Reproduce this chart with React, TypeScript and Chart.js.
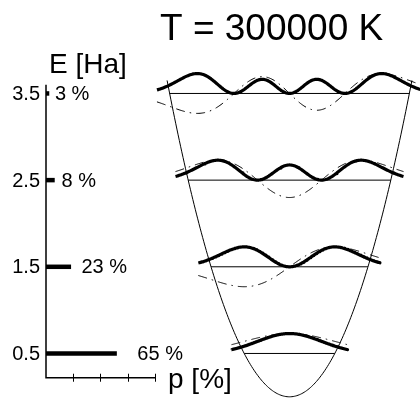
import React, { useEffect, useRef } from "react";
import { Chart, registerables } from "chart.js";

Chart.register(...registerables);

// ---- data ----
const levelEnergies = [0.5, 1.5, 2.5, 3.5]; // E [Ha]
const levelProbabilities = [65, 23, 8, 3]; // p [%]
const energyTickLabels = ["0.5", "1.5", "2.5", "3.5"];
const probabilityTicks = [25, 50, 75, 100];
const titleText = "T = 300000 K";
const energyAxisTitle = "E [Ha]";
const probabilityAxisTitle = "p [%]";

const FONT = '"Liberation Sans", Arial, Helvetica, sans-serif';
const WAVE_AMPLITUDE = 0.23; // Ha, plotted height of normalised psi and |psi|^2
const WAVE_OVERHANG = 0.28; // extent beyond classical turning points
const POTENTIAL_TOP = 3.65;

function hermite(n: number, x: number): number {
  if (n === 0) return 1;
  let h0 = 1;
  let h1 = 2 * x;
  for (let k = 1; k < n; k++) {
    const h2 = 2 * x * h1 - 2 * k * h0;
    h0 = h1;
    h1 = h2;
  }
  return h1;
}
const psi = (n: number, x: number) => hermite(n, x) * Math.exp(-(x * x) / 2);

function buildDatasets() {
  const ds: any[] = [];
  const base = { pointRadius: 0, borderColor: "#000", tension: 0, fill: false, xAxisID: "x", yAxisID: "y" };
  // potential V = x^2/2
  const xPot = Math.sqrt(2 * POTENTIAL_TOP);
  const pot: { x: number; y: number }[] = [];
  for (let i = 0; i <= 200; i++) {
    const x = -xPot + (2 * xPot * i) / 200;
    pot.push({ x, y: (x * x) / 2 });
  }
  ds.push({ ...base, data: pot, borderWidth: 1 });

  levelEnergies.forEach((E, n) => {
    const tp = Math.sqrt(2 * E);
    ds.push({ ...base, data: [{ x: -tp, y: E }, { x: tp, y: E }], borderWidth: 1 });
    const xr = tp + WAVE_OVERHANG;
    let maxAbs = 0;
    for (let i = 0; i <= 2000; i++) {
      const x = -xr + (2 * xr * i) / 2000;
      maxAbs = Math.max(maxAbs, Math.abs(psi(n, x)));
    }
    const dens: { x: number; y: number }[] = [];
    const wave: { x: number; y: number }[] = [];
    for (let i = 0; i <= 240; i++) {
      const x = -xr + (2 * xr * i) / 240;
      const v = psi(n, x) / maxAbs;
      wave.push({ x, y: E + WAVE_AMPLITUDE * v });
      dens.push({ x, y: E + WAVE_AMPLITUDE * v * v });
    }
    ds.push({ ...base, data: wave, borderWidth: 1, borderDash: [9, 5, 1.5, 5] });
    ds.push({ ...base, data: dens, borderWidth: 3.2, borderJoinStyle: "round" });
  });

  levelEnergies.forEach((E, n) => {
    ds.push({
      ...base,
      xAxisID: "xp",
      data: [{ x: 0, y: E }, { x: levelProbabilities[n], y: E }],
      borderWidth: 4.5,
      borderCapStyle: "butt",
    });
  });
  return ds;
}

const overlayPlugin = {
  id: "overlay",
  afterDatasetsDraw(chart: any) {
    const ctx = chart.ctx as CanvasRenderingContext2D;
    const xp = chart.scales.xp;
    const y = chart.scales.y;
    const x0 = xp.getPixelForValue(0);
    const x100 = xp.getPixelForValue(100);
    const yTop = y.getPixelForValue(3.6);
    const yBot = y.getPixelForValue(0.22);
    ctx.save();
    ctx.strokeStyle = "#000";
    ctx.lineWidth = 1.5;
    ctx.beginPath();
    ctx.moveTo(x0, yTop);
    ctx.lineTo(x0, yBot);
    ctx.lineTo(x100, yBot);
    ctx.stroke();
    ctx.lineWidth = 1;
    ctx.beginPath();
    probabilityTicks.forEach((t) => {
      const px = Math.round(xp.getPixelForValue(t)) + 0.5;
      ctx.moveTo(px, yBot - 4);
      ctx.lineTo(px, yBot + 4);
    });
    ctx.stroke();

    ctx.fillStyle = "#000";
    ctx.font = `20px ${FONT}`;
    ctx.textBaseline = "middle";
    levelEnergies.forEach((E, i) => {
      const py = y.getPixelForValue(E) + 1;
      ctx.textAlign = "right";
      ctx.fillText(energyTickLabels[i], x0 - 6, py);
      ctx.textAlign = "left";
      const p = levelProbabilities[i];
      ctx.fillText(`${p} %`, xp.getPixelForValue(p * 1.22 + 4.5), py);
    });

    ctx.textBaseline = "alphabetic";
    ctx.font = `28px ${FONT}`;
    ctx.textAlign = "center";
    ctx.fillText(energyAxisTitle, 88, 73);
    ctx.textAlign = "left";
    ctx.fillText(probabilityAxisTitle, 168, 388);
    ctx.font = `37px ${FONT}`;
    ctx.fillText(titleText, 160, 40);
    ctx.restore();
  },
};

export default function App() {
  const ref = useRef<HTMLCanvasElement | null>(null);
  useEffect(() => {
    if (!ref.current) return;
    const pxPerHa = 86.67;
    const e0px = 396.8;
    const pxPerUnit = 45.3;
    const cx = 289.5;
    const pxPerPct = 1.09;
    const ax0 = 46;
    const chart = new Chart(ref.current, {
      type: "line",
      data: { datasets: buildDatasets() },
      options: {
        animation: false,
        responsive: false,
        devicePixelRatio: 1,
        layout: { padding: 0 },
        plugins: { legend: { display: false }, tooltip: { enabled: false } },
        events: [],
        scales: {
          x: { type: "linear", display: false, min: -cx / pxPerUnit, max: (420 - cx) / pxPerUnit },
          xp: { type: "linear", axis: "x", display: false, min: -ax0 / pxPerPct, max: (420 - ax0) / pxPerPct },
          y: { type: "linear", display: false, min: (e0px - 398) / pxPerHa, max: e0px / pxPerHa },
        },
      } as any,
      plugins: [overlayPlugin],
    });
    return () => chart.destroy();
  }, []);
  return (
    <div style={{ position: "fixed", left: 0, top: 0, width: 420, height: 398, background: "#fff" }}>
      <canvas ref={ref} width={420} height={398} style={{ width: 420, height: 398, display: "block" }} />
    </div>
  );
}
